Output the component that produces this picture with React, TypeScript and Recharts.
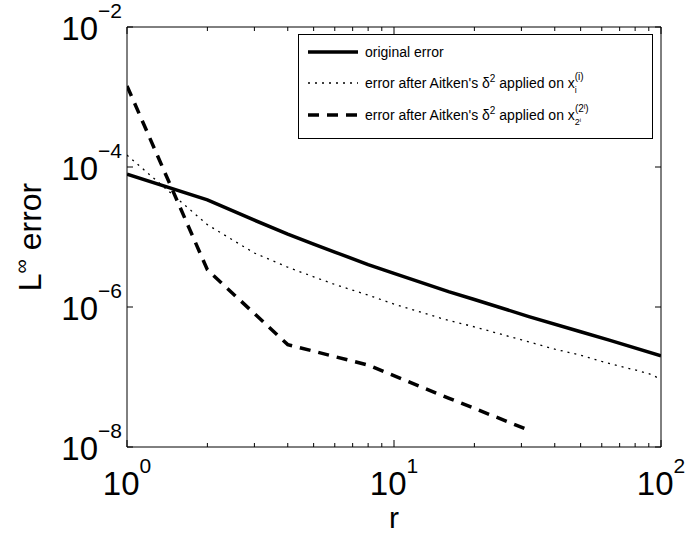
import React from 'react';
import { LineChart, Line, XAxis, YAxis, Legend } from 'recharts';

// ---- data ----
const solidR = [1, 2, 3, 4, 5, 6, 8, 10, 16, 20, 32, 50, 64, 100];
const solidErr = [7.9e-5, 3.39e-5, 1.74e-5, 1.1e-5, 7.9e-6, 6.1e-6, 4.04e-6, 3.03e-6, 1.66e-6, 1.28e-6, 7.3e-7, 4.43e-7, 3.37e-7, 2.0e-7];

const dotR = [1, 2, 3, 4, 5, 6, 8, 10, 15, 20, 30, 40, 50, 60, 70, 80, 90, 100];
const dotErr = [1.48e-4, 1.5e-5, 5.9e-6, 3.7e-6, 2.7e-6, 2.1e-6, 1.48e-6, 1.1e-6, 6.9e-7, 5.2e-7, 3.4e-7, 2.5e-7, 2.05e-7, 1.67e-7, 1.43e-7, 1.26e-7, 1.12e-7, 9.3e-8];

const dashR = [1, 2, 4, 8, 16, 32];
const dashErr = [1.44e-3, 3.4e-6, 2.9e-7, 1.48e-7, 5.0e-8, 1.74e-8];

const xTicks = [1, 2, 3, 4, 5, 6, 7, 8, 9, 10, 20, 30, 40, 50, 60, 70, 80, 90, 100];
const yTicks = [1e-8, 1e-6, 1e-4, 1e-2];
const xTickExp: Record<number, string> = { 1: '0', 10: '1', 100: '2' };
const yTickExp: Record<number, string> = { 1e-8: '\u22128', 1e-6: '\u22126', 1e-4: '\u22124', 1e-2: '\u22122' };

const seriesNames = [
  'original error',
  "error after Aitken's \u03b4",
];

const solidData = solidR.map((r, i) => ({ r, v: solidErr[i] }));
const dotData = dotR.map((r, i) => ({ r, v: dotErr[i] }));
const dashData = dashR.map((r, i) => ({ r, v: dashErr[i] }));

const FONT = '"Liberation Sans", Arial, Helvetica, sans-serif';

const BottomTick = (props: any) => {
  const { x, y, payload } = props;
  const v = payload.value;
  const exp = xTickExp[v];
  return (
    <g>
      <line x1={x} x2={x} y1={y} y2={y - (exp !== undefined ? 7 : 4)} stroke="#000" strokeWidth={1} />
      {exp !== undefined && (
        <text x={x} y={y + 48} textAnchor="middle" fontFamily={FONT} fontSize={33} fill="#000">
          10
          <tspan dy={-22} fontSize={21}>{exp}</tspan>
        </text>
      )}
    </g>
  );
};

const TopTick = (props: any) => {
  const { x, y, payload } = props;
  const major = xTickExp[payload.value] !== undefined;
  return <line x1={x} x2={x} y1={y} y2={y + (major ? 7 : 4)} stroke="#000" strokeWidth={1} />;
};

const LeftTick = (props: any) => {
  const { x, y, payload } = props;
  const exp = yTickExp[payload.value];
  return (
    <g>
      <line x1={x} x2={x + 6} y1={y} y2={y} stroke="#000" strokeWidth={1} />
      <text x={x - 5} y={y + 13} textAnchor="end" fontFamily={FONT} fontSize={33} fill="#000">
        10
        <tspan dy={-22} fontSize={21}>{exp}</tspan>
      </text>
    </g>
  );
};

const RightTick = (props: any) => {
  const { x, y } = props;
  return <line x1={x} x2={x - 6} y1={y} y2={y} stroke="#000" strokeWidth={1} />;
};

const LegendBox = () => (
  <svg width={356} height={106} style={{ display: 'block', overflow: 'visible' }}>
    <rect x={0.5} y={0.5} width={354} height={104} fill="#fff" stroke="#000" strokeWidth={1} />
    <g fontFamily={FONT} fontSize={14} fill="#000">
      <line x1={10} x2={60} y1={18} y2={18} stroke="#000" strokeWidth={3.5} />
      <text x={67} y={23}>{seriesNames[0]}</text>

      <line x1={10} x2={60} y1={49} y2={49} stroke="#000" strokeWidth={1.3} strokeDasharray="2 5" />
      <text x={67} y={54}>
        {seriesNames[1]}
        <tspan dy={-6} fontSize={10}>2</tspan>
        <tspan dy={6}> applied on x</tspan>
        <tspan dy={5} fontSize={9}>i</tspan>
        <tspan dx={-2.2} dy={-13} fontSize={10}>(i)</tspan>
      </text>

      <line x1={10} x2={60} y1={81} y2={81} stroke="#000" strokeWidth={3.5} strokeDasharray="11 8" />
      <text x={67} y={86}>
        {seriesNames[1]}
        <tspan dy={-6} fontSize={10}>2</tspan>
        <tspan dy={6}> applied on x</tspan>
        <tspan dy={5} fontSize={9}>2</tspan>
        <tspan dy={-3} fontSize={6}>i</tspan>
        <tspan dx={-6.3} dy={-10} fontSize={10}>(2</tspan>
        <tspan dy={-3} fontSize={7}>i</tspan>
        <tspan dy={3} fontSize={10}>)</tspan>
      </text>
    </g>
  </svg>
);

const YLabel = () => (
  <text x={41} y={237} transform="rotate(-90, 41, 237)" textAnchor="middle" fontFamily={FONT} fontSize={32} fill="#000">
    L
    <tspan dy={-13} fontSize={20}>{'\u221e'}</tspan>
    <tspan dy={13}> error</tspan>
  </text>
);

const XLabel = () => (
  <text x={394} y={528} textAnchor="middle" fontFamily={FONT} fontSize={30} fill="#000">r</text>
);

export default function App() {
  return (
    <div style={{ position: 'absolute', left: 0, top: 0, width: 689, height: 535, background: '#fff' }}>
      <LineChart width={689} height={535} margin={{ top: 7, right: 8, bottom: 68, left: 107 }}>
        <XAxis
          xAxisId="b"
          dataKey="r"
          type="number"
          scale="log"
          domain={[1, 100]}
          ticks={xTicks}
          interval={0}
          allowDataOverflow
          height={20}
          tickSize={0}
          tickMargin={0}
          tickLine={false}
          tick={<BottomTick />}
          axisLine={{ stroke: '#000', strokeWidth: 1 }}
          label={<XLabel />}
        />
        <XAxis
          xAxisId="t"
          orientation="top"
          dataKey="r"
          type="number"
          scale="log"
          domain={[1, 100]}
          ticks={xTicks}
          interval={0}
          allowDataOverflow
          height={20}
          tickSize={0}
          tickMargin={0}
          tickLine={false}
          tick={<TopTick />}
          axisLine={{ stroke: '#000', strokeWidth: 1 }}
        />
        <YAxis
          yAxisId="l"
          type="number"
          scale="log"
          domain={[1e-8, 1e-2]}
          ticks={yTicks}
          interval={0}
          allowDataOverflow
          width={20}
          tickSize={0}
          tickMargin={0}
          tickLine={false}
          tick={<LeftTick />}
          axisLine={{ stroke: '#000', strokeWidth: 1 }}
          label={<YLabel />}
        />
        <YAxis
          yAxisId="r"
          orientation="right"
          type="number"
          scale="log"
          domain={[1e-8, 1e-2]}
          ticks={yTicks}
          interval={0}
          allowDataOverflow
          width={20}
          tickSize={0}
          tickMargin={0}
          tickLine={false}
          tick={<RightTick />}
          axisLine={{ stroke: '#000', strokeWidth: 1 }}
        />
        <Line xAxisId="b" yAxisId="l" data={solidData} dataKey="v" stroke="#000" strokeWidth={3.5} dot={false} isAnimationActive={false} />
        <Line xAxisId="b" yAxisId="l" data={dotData} dataKey="v" stroke="#000" strokeWidth={1.3} strokeDasharray="2 5" dot={false} isAnimationActive={false} />
        <Line xAxisId="b" yAxisId="l" data={dashData} dataKey="v" stroke="#000" strokeWidth={3.5} strokeDasharray="11 8" dot={false} isAnimationActive={false} />
        <Legend
          layout="horizontal"
          verticalAlign="middle"
          align="center"
          content={<LegendBox />}
          wrapperStyle={{ position: 'absolute', left: 298, top: 34, width: 356, height: 106 }}
        />
      </LineChart>
    </div>
  );
}
